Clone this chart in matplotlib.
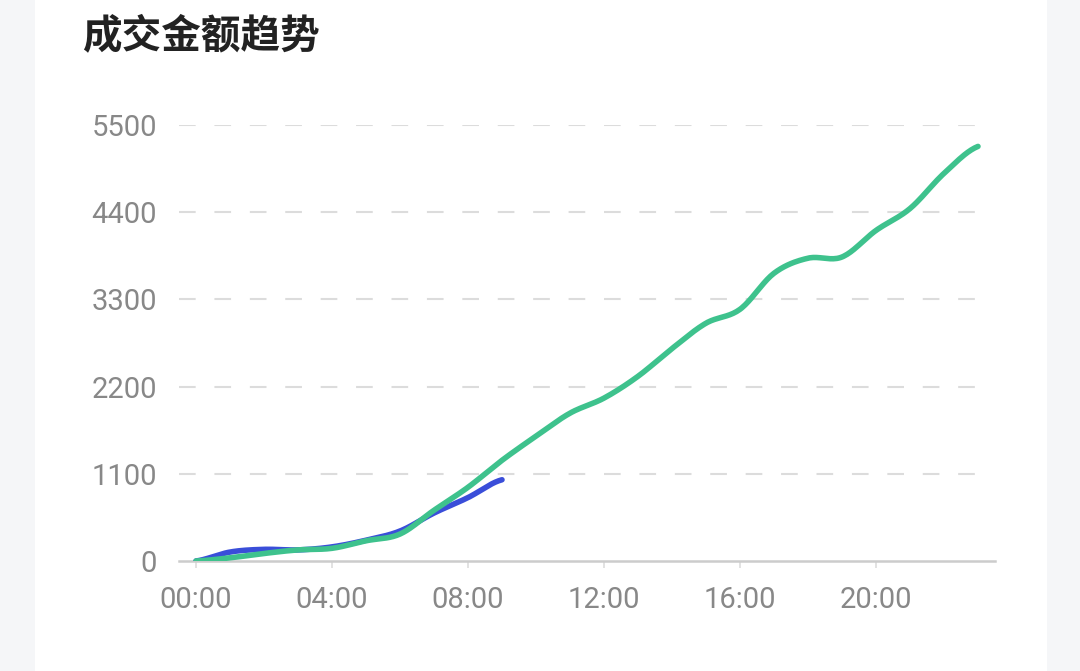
import numpy as np
import matplotlib
matplotlib.use("Agg")
import matplotlib.pyplot as plt
from matplotlib.patches import Rectangle

# ---- data ----
hours = list(range(24))
x_labels = ["00:00", "04:00", "08:00", "12:00", "16:00", "20:00"]
x_label_pos = [0, 4, 8, 12, 16, 20]
y_ticks = [0, 1100, 2200, 3300, 4400, 5500]

today = [0, 40, 95, 140, 160, 255, 340, 640, 930, 1270, 1575, 1865, 2055,
         2330, 2680, 3000, 3175, 3630, 3820, 3835, 4170, 4446, 4890, 5230]
yesterday = [0, 113, 147, 140, 178, 262, 378, 605, 800, 1025]

title = "成交金额趋势"


def smooth(xs, ys, n=20, tension=0.5):
    xs = np.asarray(xs, float)
    ys = np.asarray(ys, float)
    out_x, out_y = [], []
    m = len(xs)
    for i in range(m - 1):
        p0 = ys[i - 1] if i > 0 else ys[i]
        p3 = ys[i + 2] if i + 2 < m else ys[i + 1]
        p1, p2 = ys[i], ys[i + 1]
        t1 = (p2 - p0) * tension
        t2 = (p3 - p1) * tension
        t = np.linspace(0, 1, n, endpoint=False)
        h00 = 2 * t**3 - 3 * t**2 + 1
        h10 = t**3 - 2 * t**2 + t
        h01 = -2 * t**3 + 3 * t**2
        h11 = t**3 - t**2
        out_y.extend(h00 * p1 + h10 * t1 + h01 * p2 + h11 * t2)
        out_x.extend(xs[i] + t * (xs[i + 1] - xs[i]))
    out_x.append(xs[-1])
    out_y.append(ys[-1])
    return np.array(out_x), np.array(out_y)


W, H = 1080, 671
fig = plt.figure(figsize=(W / 100, H / 100), dpi=100)
fig.patch.set_facecolor("#f5f6f8")
fig.patches.append(Rectangle((35 / W, 0), (1047 - 35) / W, 1, transform=fig.transFigure,
                             facecolor="white", edgecolor="none", zorder=-10))

ax = fig.add_axes([179 / W, 110 / H, (995 - 179) / W, (561 - 125) / H])
ax.set_facecolor("none")
ax.set_zorder(1)

tick_font = {"family": "Roboto", "size": 21, "color": "#888888"}

bx, by = smooth(hours[:len(yesterday)], yesterday)
gx, gy = smooth(hours, today)
ax.plot(bx, by, color="#3a4ed9", lw=4.0, solid_capstyle="round", zorder=3)
ax.plot(gx, gy, color="#3ec28d", lw=4.0, solid_capstyle="round", zorder=4)

ax.set_xlim(-0.5, 23.5)
ax.set_ylim(0, 5500)

for s in ["top", "right", "left"]:
    ax.spines[s].set_visible(False)
ax.spines["bottom"].set_color("#cccccc")
ax.spines["bottom"].set_linewidth(1.8)

ax.set_xticks(x_label_pos)
ax.set_xticklabels(x_labels, fontdict=tick_font)
ax.set_yticks(y_ticks)
ax.set_yticklabels([str(v) for v in y_ticks], fontdict=tick_font)
ax.tick_params(axis="x", length=5, width=1.2, color="#dddddd", pad=13)
ax.tick_params(axis="y", length=0, pad=16)

grid_end = (985 - 179) / (995 - 179)
for v in y_ticks[1:]:
    ax.axhline(v, xmin=0, xmax=grid_end, color="#dcdcdc", lw=1.5, dashes=(8, 9), zorder=1)

fig.text(82 / W, 1 - 36 / H, title, family=["Noto Sans CJK SC", "DejaVu Sans"],
         fontsize=28.5, color="#222222", va="center", ha="left", fontweight="bold")

fig.savefig("out.png", dpi=100, facecolor=fig.get_facecolor())
